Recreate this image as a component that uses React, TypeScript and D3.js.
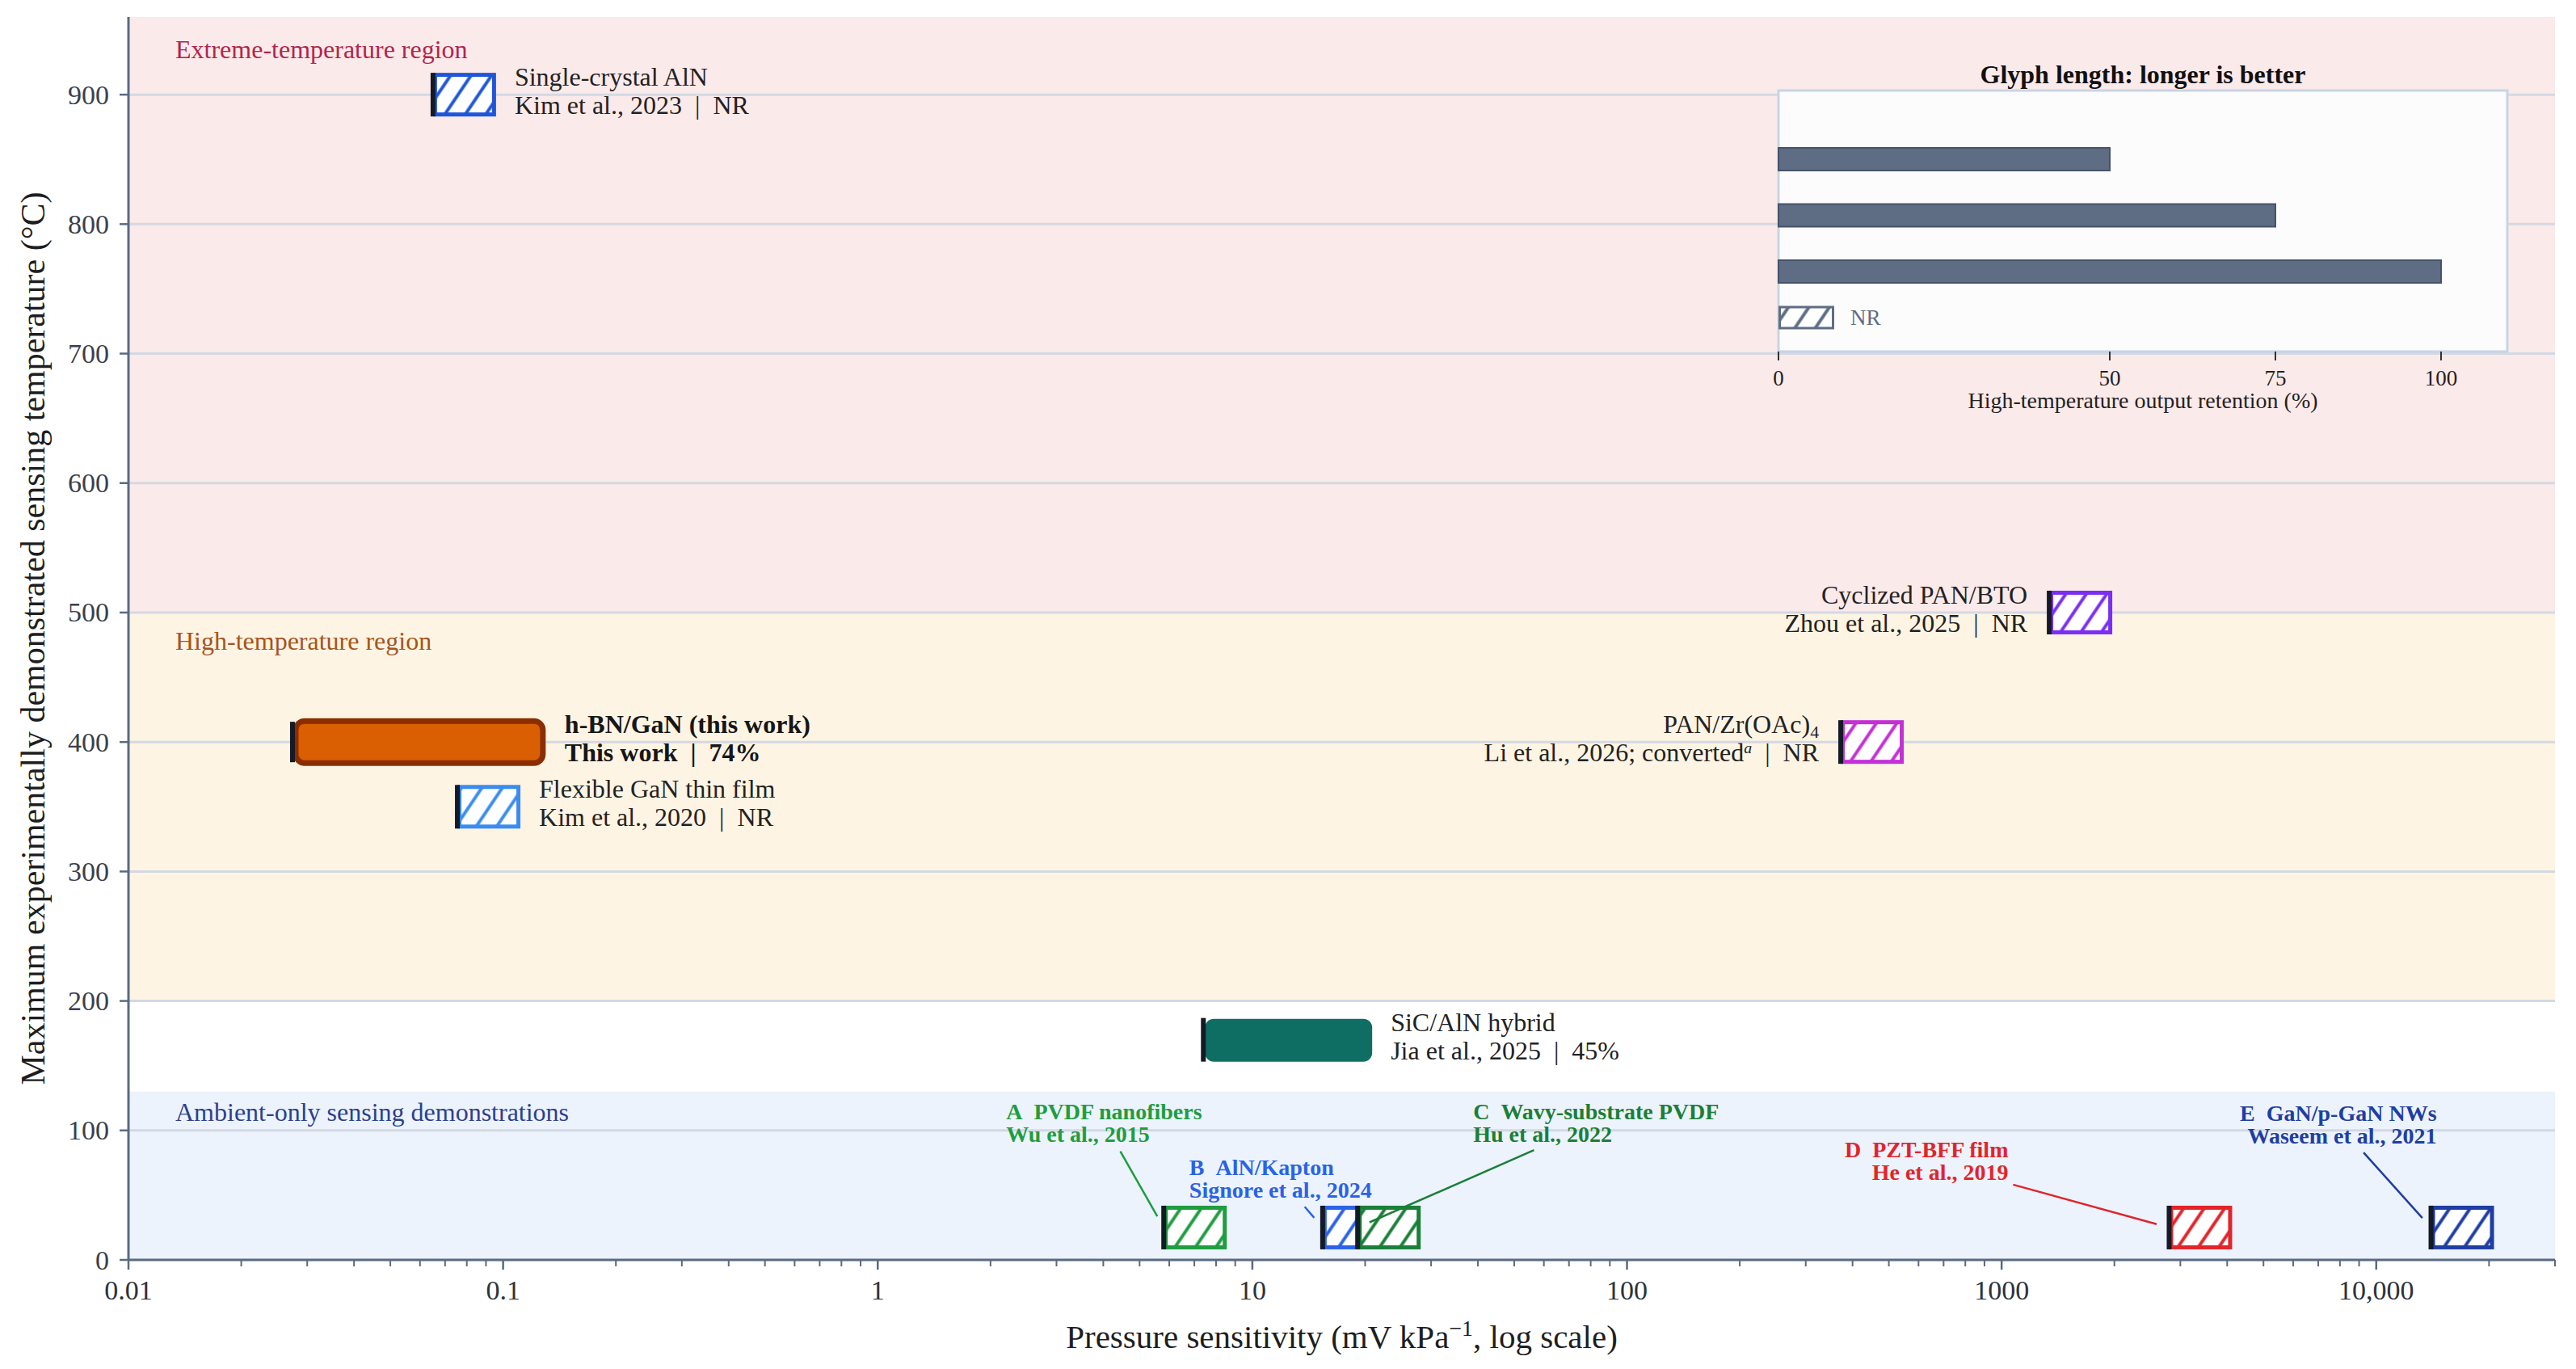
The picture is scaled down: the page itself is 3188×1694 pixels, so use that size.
import * as d3 from 'd3';
import { useEffect, useRef } from 'react';

const width = 3188;
const height = 1694;
const margin = { left: 159, right: 26, top: 21, bottom: 135 };
const font = "'Liberation Serif', 'Times New Roman', serif";

// axes
const xDomain: [number, number] = [0.01, 30000];
const yDomain: [number, number] = [0, 960];
const xTickValues = [0.01, 0.1, 1, 10, 100, 1000, 10000];
const xTickLabels = ['0.01', '0.1', '1', '10', '100', '1000', '10,000'];
const yTickValues = [0, 100, 200, 300, 400, 500, 600, 700, 800, 900];

// shaded temperature regions
const regionNames = ['Extreme-temperature region', 'High-temperature region', 'Ambient-only sensing demonstrations'];
const regionLow = [500, 200, 0];
const regionHigh = [960, 500, 130];
const regionLabelTemp = [935, 478, 114];
const regionFill = ['#fbeaea', '#fdf4e4', '#ecf3fc'];
const regionTextColor = ['#b3244d', '#a5541c', '#2d3f8e'];

// high-temperature sensors
const sensorNames = ['Single-crystal AlN', 'h-BN/GaN (this work)', 'Flexible GaN thin film', 'Cyclized PAN/BTO', 'PAN/Zr(OAc)_{4}', 'SiC/AlN hybrid'];
const sensorRefs = ['Kim et al., 2023', 'This work', 'Kim et al., 2020', 'Zhou et al., 2025', 'Li et al., 2026; converted^{a}', 'Jia et al., 2025'];
const sensorSensitivity = [0.065, 0.0274, 0.0755, 1340, 372, 7.4];
const sensorTemperature = [900, 400, 350, 500, 400, 170];
const sensorRetention: (number | null)[] = [null, 74, null, null, null, 45];
const sensorColors = ['#1f56d8', '#d95f02', '#3b8cf0', '#7a2ff2', '#c42fd6', '#0f6e64'];
const sensorLabelSide = ['right', 'right', 'right', 'left', 'left', 'right'];

// ambient-only sensors
const ambientLetters = ['A', 'B', 'C', 'D', 'E'];
const ambientNames = ['PVDF nanofibers', 'AlN/Kapton', 'Wavy-substrate PVDF', 'PZT-BFF film', 'GaN/p-GaN NWs'];
const ambientRefs = ['Wu et al., 2015', 'Signore et al., 2024', 'Hu et al., 2022', 'He et al., 2019', 'Waseem et al., 2021'];
const ambientSensitivity = [5.8, 15.4, 19.1, 2800, 14000];
const ambientTemperature = [25, 25, 25, 25, 25];
const ambientColors = ['#1f9d40', '#2a62e8', '#1b7f38', '#e2242b', '#1f3ea3'];
// label offsets (px) from the glyph anchor, and text anchor
const ambientLabelOffset: [number, number][] = [[-195, -134], [-165, -65], [143, -134], [-199, -87], [7, -132]];
const ambientLabelAnchor = ['start', 'start', 'start', 'end', 'end'];

// inset legend
const legendRetention = [50, 75, 100];
const legendTicks = [0, 50, 75, 100];

const glyphH = 54;
const hatchW = 78;
const sep = '\u2002|\u2002';

function addRich(sel: d3.Selection<SVGTextElement, unknown, null, undefined>, str: string) {
    const parts = str.split(/(_\{[^}]*\}|\^\{[^}]*\})/).filter(Boolean);
    parts.forEach((p) => {
        if (p.startsWith('_{')) {
            sel.append('tspan').attr('baseline-shift', -6).attr('font-size', '68%').text(p.slice(2, -1));
        } else if (p.startsWith('^{')) {
            sel.append('tspan')
                .attr('baseline-shift', 10)
                .attr('font-size', '62%')
                .attr('font-style', 'italic')
                .text(p.slice(2, -1));
        } else {
            sel.append('tspan').text(p);
        }
    });
}

export default function App() {
    const ref = useRef<SVGSVGElement>(null);

    useEffect(() => {
        if (!ref.current) return;
        const svg = d3.select(ref.current);
        svg.selectAll('*').remove();

        const x = d3.scaleLog().domain(xDomain).range([margin.left, width - margin.right]);
        const y = d3.scaleLinear().domain(yDomain).range([height - margin.bottom, margin.top]);
        const retentionLength = d3.scaleLinear().domain([0, 100]).range([46, 408]);
        const plotW = width - margin.right - margin.left;
        const axisColor = '#5b6a82';

        const defs = svg.append('defs');
        function hatch(id: string, color: string) {
            const p = defs
                .append('pattern')
                .attr('id', id)
                .attr('patternUnits', 'userSpaceOnUse')
                .attr('width', 21)
                .attr('height', 21)
                .attr('patternTransform', 'rotate(34)');
            p.append('rect').attr('width', 21).attr('height', 21).attr('fill', '#fff');
            p.append('line')
                .attr('x1', 10.5)
                .attr('x2', 10.5)
                .attr('y1', 0)
                .attr('y2', 21)
                .attr('stroke', color)
                .attr('stroke-width', 4);
        }
        sensorColors.forEach((c, i) => hatch(`hs-${i}`, c));
        ambientColors.forEach((c, i) => hatch(`ha-${i}`, c));
        hatch('h-legend', '#5e6d84');

        // regions
        regionNames.forEach((name, i) => {
            svg.append('rect')
                .attr('x', margin.left)
                .attr('width', plotW)
                .attr('y', y(regionHigh[i]))
                .attr('height', y(regionLow[i]) - y(regionHigh[i]))
                .attr('fill', regionFill[i]);
        });

        // grid
        svg.append('g')
            .selectAll('line')
            .data(yTickValues.filter((t) => t > 0))
            .join('line')
            .attr('x1', margin.left)
            .attr('x2', width - margin.right)
            .attr('y1', (d) => y(d))
            .attr('y2', (d) => y(d))
            .attr('stroke', '#d3d9e4')
            .attr('stroke-width', 3);

        regionNames.forEach((name, i) => {
            svg.append('text')
                .attr('x', margin.left + 58)
                .attr('y', y(regionLabelTemp[i]))
                .attr('dominant-baseline', 'central')
                .attr('font-size', 32)
                .attr('fill', regionTextColor[i])
                .text(name);
        });

        // inset legend
        const xi = d3.scaleLinear().domain([0, 110]).range([2201, 3103]);
        const rowY = d3.scalePoint<number>().domain(legendRetention).range([197, 336]);
        const inset = svg.append('g');
        inset.append('rect')
            .attr('x', xi(0))
            .attr('y', 112)
            .attr('width', xi(110) - xi(0))
            .attr('height', 323)
            .attr('fill', '#fcfcfd')
            .attr('stroke', '#c9d4e4')
            .attr('stroke-width', 3);
        inset.append('text')
            .attr('x', (xi(0) + xi(110)) / 2)
            .attr('y', 103)
            .attr('text-anchor', 'middle')
            .attr('font-size', 32)
            .attr('font-weight', 'bold')
            .attr('fill', '#111')
            .text('Glyph length: longer is better');
        inset.selectAll('rect.bar')
            .data(legendRetention)
            .join('rect')
            .attr('class', 'bar')
            .attr('x', xi(0))
            .attr('y', (d) => (rowY(d) ?? 0) - 14)
            .attr('width', (d) => xi(d) - xi(0))
            .attr('height', 28)
            .attr('fill', '#5e6d84')
            .attr('stroke', '#46536a')
            .attr('stroke-width', 2);
        inset.append('rect')
            .attr('x', xi(0) + 1.5)
            .attr('y', 380)
            .attr('width', 66)
            .attr('height', 26)
            .attr('fill', 'url(#h-legend)')
            .attr('stroke', '#5e6d84')
            .attr('stroke-width', 3);
        inset.append('text')
            .attr('x', xi(0) + 89)
            .attr('y', 393)
            .attr('dominant-baseline', 'central')
            .attr('font-size', 27)
            .attr('fill', '#5e6d84')
            .text('NR');
        inset.selectAll('line.tick')
            .data(legendTicks)
            .join('line')
            .attr('class', 'tick')
            .attr('x1', (d) => xi(d))
            .attr('x2', (d) => xi(d))
            .attr('y1', 435)
            .attr('y2', 446)
            .attr('stroke', '#333')
            .attr('stroke-width', 2);
        inset.selectAll('text.tl')
            .data(legendTicks)
            .join('text')
            .attr('class', 'tl')
            .attr('x', (d) => xi(d))
            .attr('y', 477)
            .attr('text-anchor', 'middle')
            .attr('font-size', 27)
            .attr('fill', '#222')
            .text((d) => String(d));
        inset.append('text')
            .attr('x', (xi(0) + xi(110)) / 2)
            .attr('y', 505)
            .attr('text-anchor', 'middle')
            .attr('font-size', 28)
            .attr('fill', '#222')
            .text('High-temperature output retention (%)');

        // axes
        const axisG = svg.append('g');
        axisG.append('line')
            .attr('x1', margin.left)
            .attr('x2', width - margin.right)
            .attr('y1', y(0))
            .attr('y2', y(0))
            .attr('stroke', axisColor)
            .attr('stroke-width', 3);
        axisG.append('line')
            .attr('x1', margin.left)
            .attr('x2', margin.left)
            .attr('y1', y(yDomain[1]))
            .attr('y2', y(0))
            .attr('stroke', axisColor)
            .attr('stroke-width', 3);

        const minor: number[] = [];
        for (let k = -2; k <= 4; k++) {
            for (let m = 2; m <= 9; m++) {
                const v = m * Math.pow(10, k);
                if (v <= xDomain[1] * 1.0001) minor.push(v);
            }
        }
        axisG.selectAll('line.minor')
            .data(minor)
            .join('line')
            .attr('class', 'minor')
            .attr('x1', (d) => x(d))
            .attr('x2', (d) => x(d))
            .attr('y1', y(0))
            .attr('y2', y(0) + 8)
            .attr('stroke', axisColor)
            .attr('stroke-width', 2);
        axisG.selectAll('line.major')
            .data(xTickValues)
            .join('line')
            .attr('class', 'major')
            .attr('x1', (d) => x(d))
            .attr('x2', (d) => x(d))
            .attr('y1', y(0))
            .attr('y2', y(0) + 12)
            .attr('stroke', axisColor)
            .attr('stroke-width', 2.5);
        axisG.selectAll('text.xt')
            .data(xTickValues)
            .join('text')
            .attr('class', 'xt')
            .attr('x', (d) => x(d))
            .attr('y', y(0) + 49)
            .attr('text-anchor', 'middle')
            .attr('font-size', 34)
            .attr('fill', '#2e323a')
            .text((d, i) => xTickLabels[i]);
        axisG.selectAll('line.yt')
            .data(yTickValues)
            .join('line')
            .attr('class', 'yt')
            .attr('x1', margin.left - 11)
            .attr('x2', margin.left)
            .attr('y1', (d) => y(d))
            .attr('y2', (d) => y(d))
            .attr('stroke', axisColor)
            .attr('stroke-width', 2.5);
        axisG.selectAll('text.ytl')
            .data(yTickValues)
            .join('text')
            .attr('class', 'ytl')
            .attr('x', margin.left - 24)
            .attr('y', (d) => y(d))
            .attr('text-anchor', 'end')
            .attr('dominant-baseline', 'central')
            .attr('font-size', 34)
            .attr('fill', '#3a404c')
            .text((d) => String(d));

        const xTitle = axisG
            .append('text')
            .attr('x', margin.left + plotW / 2)
            .attr('y', 1668)
            .attr('text-anchor', 'middle')
            .attr('font-size', 41)
            .attr('fill', '#1e1e1e');
        xTitle.append('tspan').text('Pressure sensitivity (mV kPa');
        xTitle.append('tspan').attr('baseline-shift', 'super').attr('font-size', '68%').text('\u22121');
        xTitle.append('tspan').text(', log scale)');

        axisG.append('text')
            .attr('transform', `translate(41,${(y(0) + y(yDomain[1])) / 2}) rotate(-90)`)
            .attr('text-anchor', 'middle')
            .attr('dominant-baseline', 'central')
            .attr('font-size', 42)
            .attr('fill', '#1e1e1e')
            .text('Maximum experimentally demonstrated sensing temperature (\u00b0C)');

        // high-temperature sensor glyphs
        const glyphs = svg.append('g');
        sensorNames.forEach((name, i) => {
            const gx = x(sensorSensitivity[i]);
            const gy = y(sensorTemperature[i]);
            const r = sensorRetention[i];
            const len = r == null ? hatchW : retentionLength(r);
            const isThisWork = i === 1;
            if (r == null) {
                glyphs.append('rect')
                    .attr('x', gx + 2.5)
                    .attr('y', gy - glyphH / 2 + 2.5)
                    .attr('width', len - 5)
                    .attr('height', glyphH - 5)
                    .attr('fill', `url(#hs-${i})`)
                    .attr('stroke', sensorColors[i])
                    .attr('stroke-width', 5);
            } else if (isThisWork) {
                glyphs.append('rect')
                    .attr('x', gx + 4)
                    .attr('y', gy - 26)
                    .attr('width', len - 8)
                    .attr('height', 52)
                    .attr('rx', 11)
                    .attr('fill', sensorColors[i])
                    .attr('stroke', '#8a2e00')
                    .attr('stroke-width', 7);
            } else {
                glyphs.append('rect')
                    .attr('x', gx + 2)
                    .attr('y', gy - 26)
                    .attr('width', len - 2)
                    .attr('height', 53)
                    .attr('rx', 11)
                    .attr('fill', sensorColors[i]);
            }
            glyphs.append('rect')
                .attr('x', gx - 3)
                .attr('y', gy - glyphH / 2 + (isThisWork ? 2 : 0))
                .attr('width', 6)
                .attr('height', glyphH - (isThisWork ? 4 : 0))
                .attr('fill', '#141a26');

            const right = sensorLabelSide[i] === 'right';
            const tx = right ? gx + len + 23 : gx - 27;
            const lines = [name, `${sensorRefs[i]}${sep}${r == null ? 'NR' : `${r}%`}`];
            lines.forEach((line, li) => {
                const t = glyphs
                    .append('text')
                    .attr('x', tx)
                    .attr('y', gy + (li === 0 ? -11 : 24))
                    .attr('text-anchor', right ? 'start' : 'end')
                    .attr('font-size', 32)
                    .attr('font-weight', isThisWork ? 'bold' : 'normal')
                    .attr('fill', isThisWork ? '#161616' : '#222')
                    .style('white-space', 'pre');
                addRich(t, line);
            });
        });

        // ambient-only sensor glyphs
        const amb = svg.append('g');
        const labelLayer = svg.append('g');
        ambientLetters.forEach((letter, i) => {
            const gx = x(ambientSensitivity[i]);
            const gy = y(ambientTemperature[i]);
            amb.append('rect')
                .attr('x', gx + 2.5)
                .attr('y', gy - glyphH / 2 + 2.5)
                .attr('width', hatchW - 5)
                .attr('height', glyphH - 5)
                .attr('fill', `url(#ha-${i})`)
                .attr('stroke', ambientColors[i])
                .attr('stroke-width', 5);
            amb.append('rect')
                .attr('x', gx - 3)
                .attr('y', gy - glyphH / 2)
                .attr('width', 6)
                .attr('height', glyphH)
                .attr('fill', '#141a26');

            const [ox, oy] = ambientLabelOffset[i];
            const lg = labelLayer.append('g');
            [`${letter}\u2002${ambientNames[i]}`, ambientRefs[i]].forEach((line, li) => {
                lg.append('text')
                    .attr('x', gx + ox)
                    .attr('y', gy + oy + li * 28)
                    .attr('text-anchor', ambientLabelAnchor[i])
                    .attr('font-size', 28)
                    .attr('font-weight', 'bold')
                    .attr('fill', ambientColors[i])
                    .style('white-space', 'pre')
                    .text(line);
            });

            // leader line from text box toward the glyph anchor
            const bb = (lg.node() as SVGGElement).getBBox();
            const cx = bb.x + bb.width / 2;
            const cy = bb.y + bb.height / 2;
            const dx = gx - cx;
            const dy = gy - cy;
            const dist = Math.hypot(dx, dy);
            const ux = dx / dist;
            const uy = dy / dist;
            const s = Math.min(
                dx !== 0 ? (bb.width / 2 + 3) / Math.abs(dx) : Infinity,
                dy !== 0 ? (bb.height / 2 + 3) / Math.abs(dy) : Infinity,
            );
            amb.append('line')
                .attr('x1', cx + dx * s + ux * 3)
                .attr('y1', cy + dy * s + uy * 3)
                .attr('x2', gx - ux * 16)
                .attr('y2', gy - uy * 16)
                .attr('stroke', ambientColors[i])
                .attr('stroke-width', 2.5);
        });
    }, []);

    return (
        <div style={{ position: 'absolute', left: 0, top: 0, background: '#fff' }}>
            <svg
                ref={ref}
                width={width}
                height={height}
                viewBox={`0 0 ${width} ${height}`}
                style={{ display: 'block', fontFamily: font }}
            />
        </div>
    );
}
